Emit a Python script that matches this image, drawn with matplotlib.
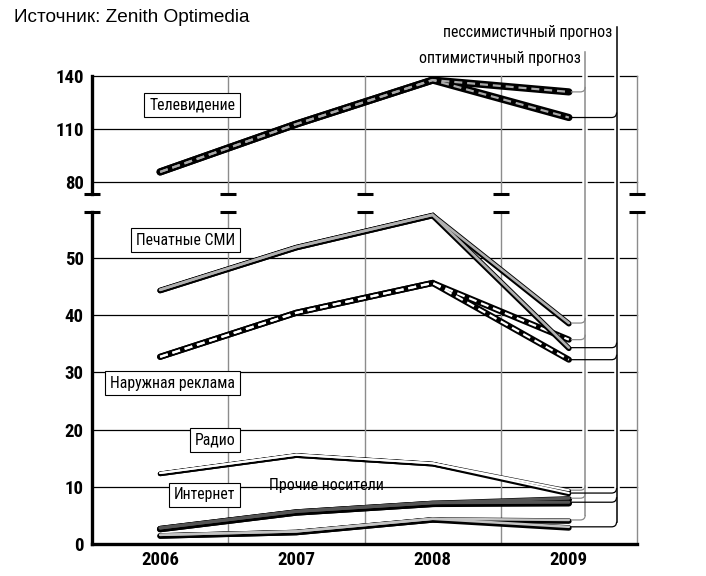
import matplotlib
matplotlib.use('Agg')
import matplotlib.pyplot as plt
import matplotlib.patheffects as pe
from matplotlib import font_manager
from matplotlib.path import Path
from matplotlib.patches import PathPatch
from matplotlib.lines import Line2D
from matplotlib.transforms import offset_copy

# fonts: look for a condensed face with cyrillic, like the original type
fonts = font_manager.fontManager.ttflist
names = {f.name for f in fonts}


def stretch_val(s):
    if isinstance(s, (int, float)):
        return s
    return font_manager.stretch_dict.get(s, 500)


NARROW, STRETCH, CONDENSED = None, 'normal', False
for fam in ['Liberation Sans Narrow', 'Roboto Condensed', 'Noto Sans', 'DejaVu Sans', 'Open Sans']:
    if fam in names and fam.endswith(('Narrow', 'Condensed')):
        NARROW, CONDENSED = fam, True
        break
    cands = [f for f in fonts if f.name == fam and stretch_val(f.stretch) < 500]
    if cands:
        NARROW, STRETCH, CONDENSED = fam, 'condensed', True
        break
if NARROW is None:
    NARROW = 'Roboto' if 'Roboto' in names else 'Liberation Sans'
REGULAR = 'Liberation Sans' if 'Liberation Sans' in names else 'DejaVu Sans'
k = 1.0 if CONDENSED else 0.86

plt.rcParams['font.family'] = [NARROW, 'DejaVu Sans']
plt.rcParams['font.stretch'] = STRETCH

# data (млрд долл.), 2009 = two forecasts
years = [2006, 2007, 2008]
year_fc = 2009

tv = [85.7, 112.8, 137.7]
tv_opt, tv_pess = 131.0, 116.5
press = [44.4, 51.9, 57.5]
press_opt, press_pess = 38.6, 34.3
outdoor = [32.7, 40.4, 45.6]
outdoor_opt, outdoor_pess = 35.7, 32.2
radio = [12.4, 15.6, 14.1]
radio_opt, radio_pess = 9.4, 8.9
internet = [2.8, 5.7, 7.2]
internet_opt, internet_pess = 8.0, 7.3
other = [1.6, 2.2, 4.4]
other_opt, other_pess = 4.2, 3.0

xticks = [2006, 2007, 2008, 2009]
top_ticks = [80, 110, 140]
bot_ticks = [0, 10, 20, 30, 40, 50]
top_lim = (73.2, 140)
bot_lim = (0, 58)
x_lim = (2005.5, 2009.5)
x_grid = [2006.5, 2007.5, 2008.5, 2009.5]
x_opt_line, x_pess_line = 2009.12, 2009.35

W, H = 706, 576
fig = plt.figure(figsize=(W / 100, H / 100), dpi=100)
ax_top = fig.add_axes([92 / W, (H - 194) / H, 545 / W, 118 / H])
ax_bot = fig.add_axes([92 / W, (H - 544) / H, 545 / W, 332 / H])

tick_font = dict(family=[NARROW, 'DejaVu Sans'], weight='bold', size=13.5 * k,
                 stretch=STRETCH)
for ax, lim, ticks in [(ax_top, top_lim, top_ticks), (ax_bot, bot_lim, bot_ticks)]:
    ax.set_xlim(*x_lim)
    ax.set_ylim(*lim)
    ax.set_yticks(ticks)
    ax.set_yticklabels([str(t) for t in ticks], fontdict=tick_font)
    ax.tick_params(axis='y', length=0, pad=6)
    for s in ['top', 'right', 'bottom']:
        ax.spines[s].set_visible(False)
    ax.spines['left'].set_linewidth(2.4)
    for v in ticks:
        if v != 0:
            ax.axhline(v, color='black', lw=0.9, zorder=1, clip_on=False)
    for xg in x_grid:
        ax.axvline(xg, color='#8c8c8c', lw=1.0, zorder=1, clip_on=False)

ax_top.set_xticks([])
ax_bot.set_xticks(xticks)
ax_bot.set_xticklabels([str(y) for y in xticks], fontdict=tick_font)
ax_bot.tick_params(axis='x', length=0, pad=5)
ax_bot.spines['bottom'].set_visible(True)
ax_bot.spines['bottom'].set_linewidth(2.4)

# break marks
marks_x = [x_lim[0]] + x_grid
ax_top.plot(marks_x, [top_lim[0]] * len(marks_x), ls='none', marker='_',
            ms=11, mew=2.2, color='black', clip_on=False, zorder=5)
ax_bot.plot(marks_x, [bot_lim[1]] * len(marks_x), ls='none', marker='_',
            ms=11, mew=2.2, color='black', clip_on=False, zorder=5)


def draw_series(ax, hist, opt, pess, top, under_lw, top_lw, dashed=False,
                shadow=0.0, z=3):
    paths = [(years + [year_fc], hist + [opt]), (years + [year_fc], hist + [pess])]
    tr = offset_copy(ax.transData, fig=fig, x=0, y=-shadow, units='points')
    for xs, ys in paths:
        ax.plot(xs, ys, color='black', lw=under_lw, transform=tr,
                solid_capstyle='round', solid_joinstyle='miter', zorder=z)
    for xs, ys in paths:
        if dashed:
            ax.plot(xs, ys, color=top, lw=top_lw, ls=(0, (3.6, 2.2)),
                    dash_capstyle='butt', dash_joinstyle='miter', zorder=z + 0.1)
        else:
            ax.plot(xs, ys, color=top, lw=top_lw, solid_capstyle='round',
                    solid_joinstyle='miter', zorder=z + 0.1)


draw_series(ax_top, tv, tv_opt, tv_pess, '#a8a8a8', 5.2, 1.6, dashed=True)
draw_series(ax_bot, outdoor, outdoor_opt, outdoor_pess, 'white', 4.4, 1.6, dashed=True, z=3)
draw_series(ax_bot, press, press_opt, press_pess, '#b0b0b0', 4.0, 1.9, shadow=0.5, z=3.3)
draw_series(ax_bot, radio, radio_opt, radio_pess, 'white', 3.4, 1.5, shadow=0.6, z=3.5)
draw_series(ax_bot, other, other_opt, other_pess, '#c4c4c4', 4.0, 1.8, shadow=0.8, z=3.6)
draw_series(ax_bot, internet, internet_opt, internet_pess, '#555555', 4.6, 2.2, shadow=0.8, z=3.7)

# series labels
box = dict(boxstyle='square,pad=0.3', fc='white', ec='black', lw=0.8)
lab_x = 2006.55
label_kw = dict(ha='right', va='center', fontsize=11.3 * k, bbox=box, zorder=6)
ax_top.text(lab_x, 123.6, 'Телевидение', **label_kw)
ax_bot.text(lab_x, 53.1, 'Печатные СМИ', **label_kw)
ax_bot.text(lab_x, 28.1, 'Наружная реклама', **label_kw)
ax_bot.text(lab_x, 18.2, 'Радио', **label_kw)
ax_bot.text(lab_x, 8.6, 'Интернет', **label_kw)
ax_bot.text(2007.22, 10.2, 'Прочие носители', ha='center', va='center',
            fontsize=11.5 * k, zorder=6)

# forecast connectors
to_fig = fig.transFigure.inverted()
r = 5


def connector(ax, value, x_line, color):
    x0, y0 = ax.transData.transform((year_fc, value))
    xv = ax_bot.transData.transform((x_line, 0))[0]
    verts = [(x0 + 2, y0), (xv - r, y0), (xv, y0), (xv, y0 + r)]
    codes = [Path.MOVETO, Path.LINETO, Path.CURVE3, Path.CURVE3]
    p = Path(to_fig.transform(verts), codes)
    fig.add_artist(PathPatch(p, fc='none', ec=color, lw=0.9, transform=fig.transFigure,
                             zorder=4))
    return y0


def vertical(x_line, y_top_px, y_low, color):
    xv = ax_bot.transData.transform((x_line, 0))[0]
    (fx0, fy0), (fx1, fy1) = to_fig.transform([(xv, H - y_top_px), (xv, y_low + r)])
    fig.add_artist(Line2D([fx0, fx1], [fy0, fy1], color=color, lw=1.1,
                          transform=fig.transFigure, zorder=3,
                          path_effects=[pe.Stroke(linewidth=4, foreground='white'), pe.Normal()]))


opt_pts = [(ax_top, tv_opt), (ax_bot, press_opt), (ax_bot, outdoor_opt),
           (ax_bot, radio_opt), (ax_bot, internet_opt), (ax_bot, other_opt)]
pess_pts = [(ax_top, tv_pess), (ax_bot, press_pess), (ax_bot, outdoor_pess),
            (ax_bot, radio_pess), (ax_bot, internet_pess), (ax_bot, other_pess)]

ys_opt = [connector(a, v, x_opt_line, '#8a8a8a') for a, v in opt_pts]
ys_pess = [connector(a, v, x_pess_line, 'black') for a, v in pess_pts]
vertical(x_opt_line, 52, min(ys_opt), '#8a8a8a')
vertical(x_pess_line, 27, min(ys_pess), 'black')

fig.text(612 / W, 1 - 33 / H, 'пессимистичный прогноз', ha='right', va='center',
         fontsize=11.4 * k)
fig.text(581 / W, 1 - 58 / H, 'оптимистичный прогноз', ha='right', va='center',
         fontsize=11.4 * k)
fig.text(14 / W, 1 - 18 / H, 'Источник: Zenith Optimedia', ha='left', va='center',
         fontsize=13.7, family=[REGULAR, 'DejaVu Sans'], stretch='normal')

fig.savefig('out.png', dpi=100)
